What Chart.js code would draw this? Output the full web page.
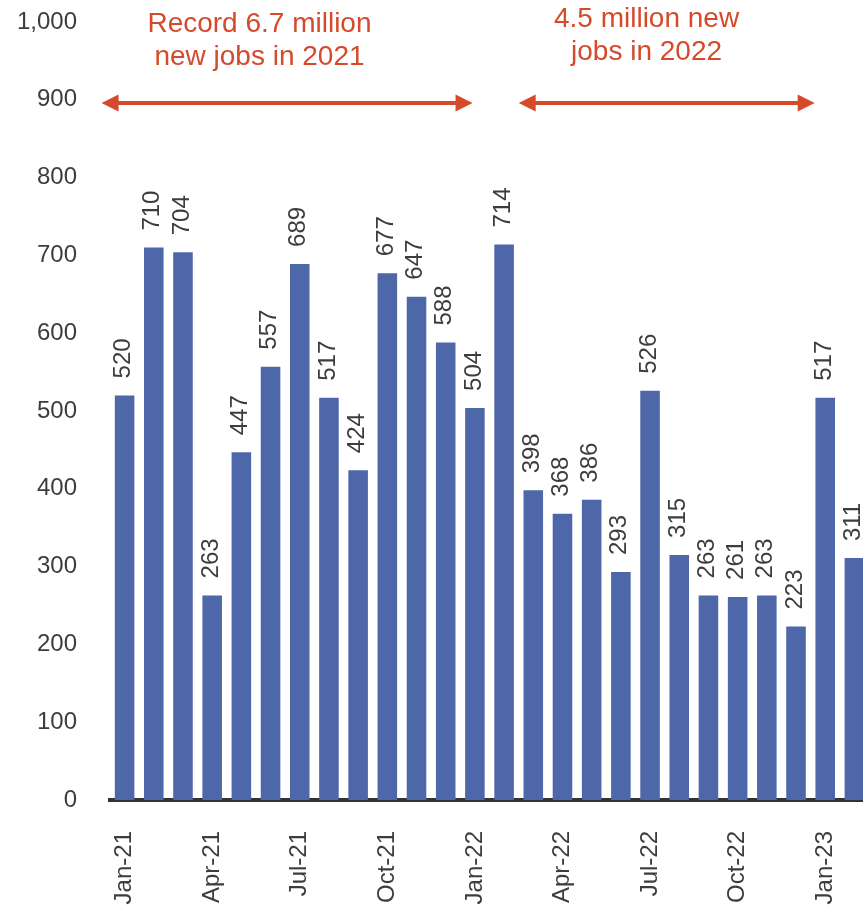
<!DOCTYPE html>
<html>
<head>
<meta charset="utf-8">
<title>Monthly job gains</title>
<script src="https://cdn.jsdelivr.net/npm/chart.js@4.4.1/dist/chart.umd.min.js"></script>
<style>
  html, body { margin: 0; padding: 0; background: #ffffff; overflow: hidden; }
  #wrap { width: 869px; height: 914px; }
</style>
</head>
<body>
<div id="wrap"><canvas id="chart" width="869" height="914"></canvas></div>
<script>
// Monthly nonfarm payroll gains, thousands
const months = [
  'Jan-21', 'Feb-21', 'Mar-21', 'Apr-21', 'May-21', 'Jun-21', 'Jul-21', 'Aug-21', 'Sep-21',
  'Oct-21', 'Nov-21', 'Dec-21', 'Jan-22', 'Feb-22', 'Mar-22', 'Apr-22', 'May-22', 'Jun-22',
  'Jul-22', 'Aug-22', 'Sep-22', 'Oct-22', 'Nov-22', 'Dec-22', 'Jan-23', 'Feb-23'
];
const jobGains = [
  520, 710, 704, 263, 447, 557, 689, 517, 424,
  677, 647, 588, 504, 714, 398, 368, 386, 293,
  526, 315, 263, 261, 263, 223, 517, 311
];
const yTicks = [0, 100, 200, 300, 400, 500, 600, 700, 800, 900, 1000];

// Callout text and the period arrows (x in category index units, y in thousands)
const calloutLines2021 = ['Record 6.7 million', 'new jobs in 2021'];
const calloutLines2022 = ['4.5 million new', 'jobs in 2022'];
const callouts = [
  { lines: calloutLines2021, x: 4.62, y: [987, 945], arrowFrom: -0.79, arrowTo: 11.92, arrowY: 896 },
  { lines: calloutLines2022, x: 17.88, y: [994, 951], arrowFrom: 13.5, arrowTo: 23.64, arrowY: 896 }
];

const BAR_BLUE = '#4e67a8';
const CALLOUT_RED = '#d44a2b';
const TEXT_DARK = '#3d3d3d';
const FONT = '"Liberation Sans", Arial, sans-serif';

const valueLabels = {
  id: 'valueLabels',
  afterDatasetsDraw(chart) {
    const ctx = chart.ctx;
    const meta = chart.getDatasetMeta(0);
    ctx.save();
    ctx.fillStyle = TEXT_DARK;
    ctx.font = '24px ' + FONT;
    ctx.textAlign = 'left';
    ctx.textBaseline = 'middle';
    meta.data.forEach((bar, i) => {
      ctx.save();
      ctx.translate(bar.x - 1, bar.y - 17);
      ctx.rotate(-Math.PI / 2);
      ctx.fillText(String(jobGains[i]), 0, 0);
      ctx.restore();
    });
    ctx.restore();
  }
};

function drawArrowHead(ctx, x, y, dir) {
  const len = 17, half = 8.5;
  ctx.beginPath();
  ctx.moveTo(x, y);
  ctx.lineTo(x - dir * len, y - half);
  ctx.lineTo(x - dir * len, y + half);
  ctx.closePath();
  ctx.fill();
}

const periodCallouts = {
  id: 'periodCallouts',
  afterDraw(chart) {
    const ctx = chart.ctx;
    const xs = chart.scales.x;
    const ys = chart.scales.y;
    ctx.save();
    ctx.fillStyle = CALLOUT_RED;
    ctx.strokeStyle = CALLOUT_RED;
    ctx.font = '28px ' + FONT;
    ctx.textAlign = 'center';
    ctx.textBaseline = 'alphabetic';
    callouts.forEach(c => {
      const cx = xs.getPixelForValue(c.x);
      c.lines.forEach((line, k) => ctx.fillText(line, cx, ys.getPixelForValue(c.y[k])));
      const x0 = xs.getPixelForValue(c.arrowFrom);
      const x1 = xs.getPixelForValue(c.arrowTo);
      const ay = ys.getPixelForValue(c.arrowY);
      ctx.lineWidth = 4;
      ctx.beginPath();
      ctx.moveTo(x0 + 10, ay);
      ctx.lineTo(x1 - 10, ay);
      ctx.stroke();
      drawArrowHead(ctx, x0, ay, -1);
      drawArrowHead(ctx, x1, ay, 1);
    });
    ctx.restore();
  }
};

new Chart(document.getElementById('chart'), {
  type: 'bar',
  data: {
    labels: months,
    datasets: [{
      data: jobGains,
      backgroundColor: BAR_BLUE,
      borderWidth: 0,
      barPercentage: 0.67,
      categoryPercentage: 1.0
    }]
  },
  options: {
    responsive: false,
    animation: false,
    devicePixelRatio: 1,
    layout: { padding: { top: 22, right: 0, bottom: 0, left: 0 } },
    plugins: {
      legend: { display: false },
      tooltip: { enabled: false }
    },
    scales: {
      x: {
        afterFit(scale) {
          scale.height = 114;
          scale.paddingLeft = 0;
          scale.paddingRight = 0;
        },
        grid: { display: false, drawTicks: false },
        border: { display: true, color: '#333333', width: 4 },
        ticks: {
          autoSkip: false,
          maxRotation: 90,
          minRotation: 90,
          padding: 31,
          color: TEXT_DARK,
          font: { family: FONT, size: 24 },
          callback(value, index) { return index % 3 === 0 ? months[index] : ''; }
        }
      },
      y: {
        min: yTicks[0],
        max: yTicks[yTicks.length - 1],
        afterFit(scale) {
          scale.width = 110;
          scale.paddingTop = 0;
          scale.paddingBottom = 0;
        },
        afterBuildTicks(scale) { scale.ticks = yTicks.map(v => ({ value: v })); },
        grid: { display: false, drawTicks: false },
        border: { display: false },
        ticks: {
          padding: 33,
          color: TEXT_DARK,
          font: { family: FONT, size: 24 },
          callback(value) { return Number(value).toLocaleString('en-US'); }
        }
      }
    }
  },
  plugins: [valueLabels, periodCallouts]
});
</script>
</body>
</html>
